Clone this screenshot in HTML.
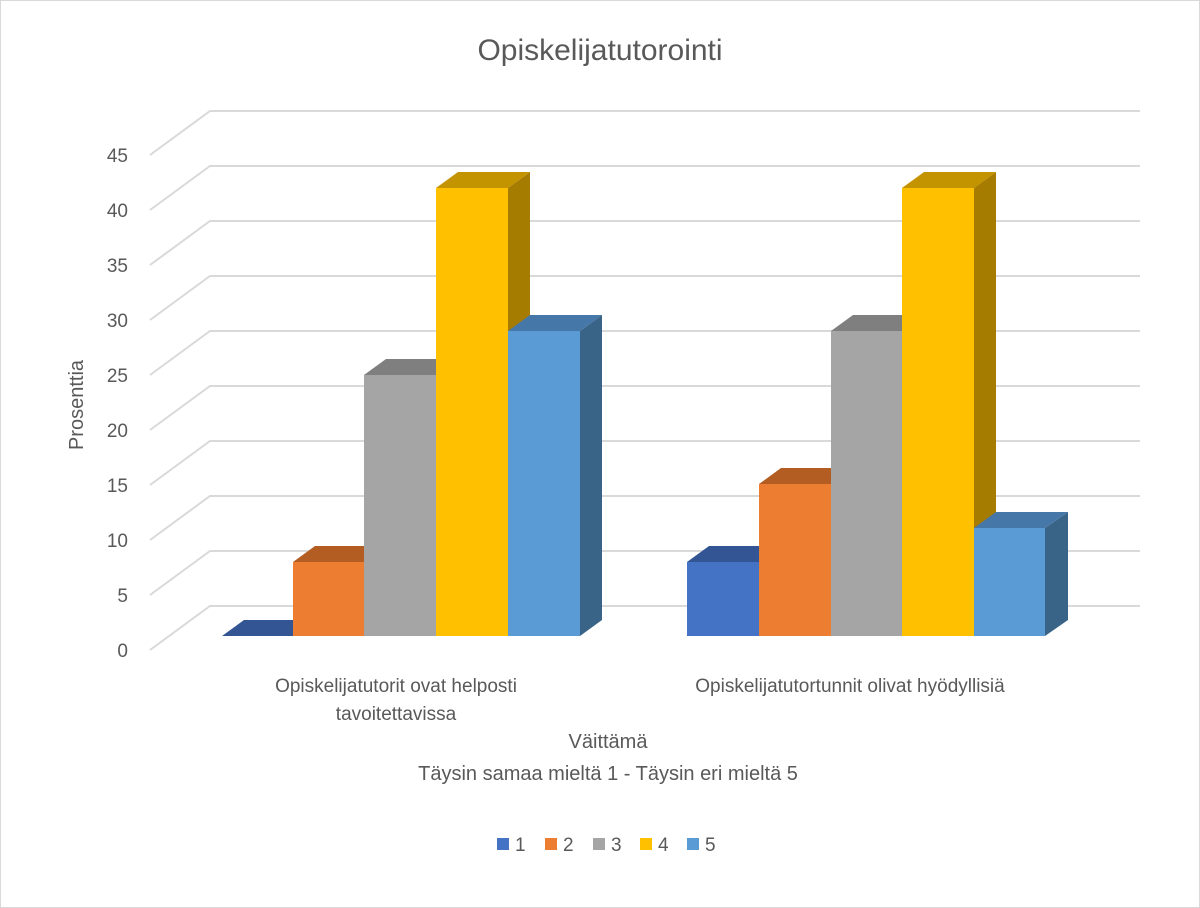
<!DOCTYPE html>
<html><head><meta charset="utf-8"><style>
body{margin:0;background:#fff}
svg{display:block;font-family:"Liberation Sans",sans-serif}
</style></head><body>
<svg width="1200" height="908" viewBox="0 0 1200 908">
<rect x="0.5" y="0.5" width="1199" height="907" fill="#fff" stroke="#d9d9d9"/>
<text x="600" y="60" font-size="30" fill="#595959" text-anchor="middle">Opiskelijatutorointi</text>
<g stroke="#d9d9d9" stroke-width="2" fill="none">
<path d="M150 650L210 606H1140M150 595L210 551H1140M150 540L210 496H1140M150 485L210 441H1140M150 430L210 386H1140M150 375L210 331H1140M150 320L210 276H1140M150 265L210 221H1140M150 210L210 166H1140M150 155L210 111H1140"/>
</g>
<g font-size="19" fill="#595959" text-anchor="end">
<text x="128" y="657">0</text><text x="128" y="602">5</text><text x="128" y="547">10</text><text x="128" y="492">15</text><text x="128" y="437">20</text><text x="128" y="382">25</text><text x="128" y="327">30</text><text x="128" y="272">35</text><text x="128" y="217">40</text><text x="128" y="162">45</text>
</g>
<text transform="translate(83,405) rotate(-90)" font-size="20" fill="#595959" text-anchor="middle">Prosenttia</text>
<!-- group 1 -->
<polygon points="222,636 244,620 315,620 293,636" fill="#335593"/>
<polygon points="364,562 386,546 386,620 364,636" fill="#B45D22"/><polygon points="293,562 315,546 386,546 364,562" fill="#B45D22"/><rect x="293" y="562" width="71" height="74" fill="#ED7D31"/>
<polygon points="436,375 458,359 458,620 436,636" fill="#7F7F7F"/><polygon points="364,375 386,359 458,359 436,375" fill="#7F7F7F"/><rect x="364" y="375" width="72" height="261" fill="#A5A5A5"/>
<polygon points="508,188 530,172 530,620 508,636" fill="#A67C00"/><polygon points="436,188 458,172 530,172 508,188" fill="#C49300"/><rect x="436" y="188" width="72" height="448" fill="#FFC000"/>
<polygon points="580,331 602,315 602,620 580,636" fill="#396487"/><polygon points="508,331 530,315 602,315 580,331" fill="#4577A8"/><rect x="508" y="331" width="72" height="305" fill="#5B9BD5"/>
<!-- group 2 -->
<polygon points="759,562 781,546 781,620 759,636" fill="#335593"/><polygon points="687,562 709,546 781,546 759,562" fill="#335593"/><rect x="687" y="562" width="72" height="74" fill="#4472C4"/>
<polygon points="831,484 853,468 853,620 831,636" fill="#B45D22"/><polygon points="759,484 781,468 853,468 831,484" fill="#B45D22"/><rect x="759" y="484" width="72" height="152" fill="#ED7D31"/>
<polygon points="902,331 924,315 924,620 902,636" fill="#7F7F7F"/><polygon points="831,331 853,315 924,315 902,331" fill="#7F7F7F"/><rect x="831" y="331" width="71" height="305" fill="#A5A5A5"/>
<polygon points="974,188 996,172 996,620 974,636" fill="#A67C00"/><polygon points="902,188 924,172 996,172 974,188" fill="#C49300"/><rect x="902" y="188" width="72" height="448" fill="#FFC000"/>
<polygon points="1045,528 1068,512 1068,620 1045,636" fill="#396487"/><polygon points="974,528 996,512 1068,512 1045,528" fill="#4577A8"/><rect x="974" y="528" width="71" height="108" fill="#5B9BD5"/>
<g font-size="19" fill="#595959" text-anchor="middle">
<text x="396" y="692">Opiskelijatutorit ovat helposti</text>
<text x="396" y="720">tavoitettavissa</text>
<text x="850" y="692">Opiskelijatutortunnit olivat hyödyllisiä</text>
</g>
<text x="608" y="748" font-size="20" fill="#595959" text-anchor="middle">Väittämä</text>
<text x="608" y="780" font-size="20" fill="#595959" text-anchor="middle">Täysin samaa mieltä 1 - Täysin eri mieltä 5</text>
<g font-size="19" fill="#595959">
<rect x="497" y="838" width="12" height="12" fill="#4472C4"/><text x="515" y="851">1</text>
<rect x="545" y="838" width="12" height="12" fill="#ED7D31"/><text x="563" y="851">2</text>
<rect x="593" y="838" width="12" height="12" fill="#A5A5A5"/><text x="611" y="851">3</text>
<rect x="640" y="838" width="12" height="12" fill="#FFC000"/><text x="658" y="851">4</text>
<rect x="687" y="838" width="12" height="12" fill="#5B9BD5"/><text x="705" y="851">5</text>
</g>
</svg>
</body></html>
